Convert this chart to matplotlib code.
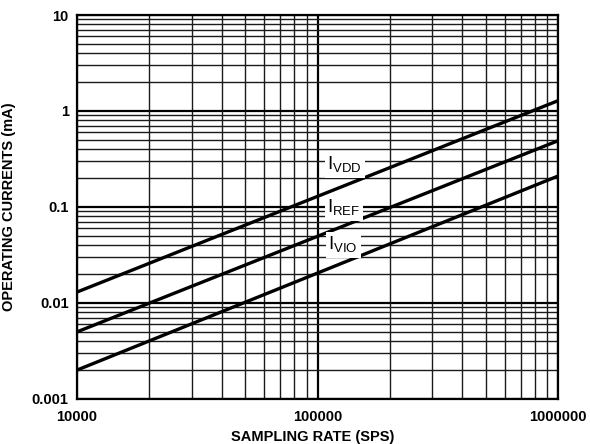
import matplotlib
matplotlib.use('Agg')
import matplotlib.pyplot as plt
import matplotlib.ticker as mticker

plt.rcParams['font.family'] = ['Liberation Sans', 'DejaVu Sans']
plt.rcParams['mathtext.fontset'] = 'custom'
plt.rcParams['mathtext.rm'] = 'Liberation Sans'

# sampling rate (SPS) and operating currents (mA)
rate = [10000, 1000000]
i_vdd = [0.013, 1.28]
i_ref = [0.005, 0.49]
i_vio = [0.002, 0.21]

# label positions (x, baseline y) in data units
labels = ['I$_{\\mathregular{VDD}}$', 'I$_{\\mathregular{REF}}$', 'I$_{\\mathregular{VIO}}$']
label_pos = [(110000, 0.243), (110000, 0.087), (111000, 0.0356)]

fig = plt.figure(figsize=(5.9, 4.44), dpi=100)
ax = fig.add_axes([0.1305, 0.1014, 0.8153, 0.8648])

ax.set_xscale('log')
ax.set_yscale('log')
ax.set_xlim(1e4, 1e6)
ax.set_ylim(1e-3, 10)

for y in (i_vdd, i_ref, i_vio):
    ax.plot(rate, y, color='black', lw=2.4, zorder=3, solid_capstyle='butt')

ax.grid(which='major', color='black', lw=1.6)
ax.grid(which='minor', color='#1a1a1a', lw=1.0)

ax.xaxis.set_major_locator(mticker.FixedLocator([1e4, 1e5, 1e6]))
ax.xaxis.set_major_formatter(mticker.FixedFormatter(['10000', '100000', '1000000']))
ax.yaxis.set_major_locator(mticker.FixedLocator([1e-3, 1e-2, 1e-1, 1, 10]))
ax.yaxis.set_major_formatter(mticker.FixedFormatter(['0.001', '0.01', '0.1', '1', '10']))
ax.xaxis.set_minor_formatter(mticker.NullFormatter())
ax.yaxis.set_minor_formatter(mticker.NullFormatter())
ax.tick_params(which='both', length=0, labelsize=10.5)
ax.tick_params(axis='x', pad=8)
ax.tick_params(axis='y', pad=6)
for t in ax.get_xticklabels() + ax.get_yticklabels():
    t.set_fontweight('bold')

for sp in ax.spines.values():
    sp.set_linewidth(1.6)
    sp.set_zorder(4)

for txt, (x, y) in zip(labels, label_pos):
    ax.text(x, y, txt, fontsize=13.5, ha='left', va='baseline', zorder=5,
            bbox=dict(facecolor='white', edgecolor='none', pad=2))

ax.set_xlabel('SAMPLING RATE (SPS)', fontsize=10.5, fontweight='bold')
ax.set_ylabel('OPERATING CURRENTS (mA)', fontsize=10.5, fontweight='bold')
ax.xaxis.set_label_coords(0.49, -0.082)
ax.yaxis.set_label_coords(-0.127, 0.5)

fig.savefig('out.png', dpi=100)
